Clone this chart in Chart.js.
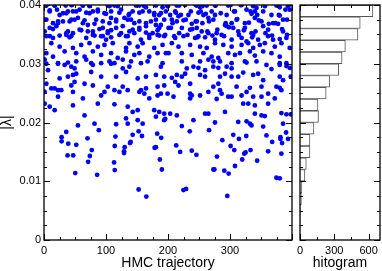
<!DOCTYPE html>
<html>
<head>
<meta charset="utf-8">
<script src="https://cdn.jsdelivr.net/npm/chart.js@4"></script>
<style>
  html, body { margin: 0; padding: 0; background: #fff; }
  #wrap { position: relative; width: 382px; height: 271px; }
  #scatter { position: absolute; left: 0; top: 0; }
  #histo { position: absolute; left: 296px; top: 0; }
</style>
</head>
<body>
<div id="wrap">
  <canvas id="scatter" width="296" height="271"></canvas>
  <canvas id="histo" width="86" height="271"></canvas>
</div>
<script>
// ---- data: [HMC trajectory, |lambda|] ----
const upperPts = [
  [3.8,.0399],[17.2,.0399],[34.9,.0399],[45,.0400],[62.7,.0399],[73.4,.0398],[102.9,.0399],[118.9,.0398],[148.4,.0399],[161.8,.0398],[180.5,.0399],[191.2,.0396],
  [9.2,.0389],[21,.0392],[25.2,.0383],[36,.0386],[46.7,.0389],[57.4,.0392],[68.1,.0387],[78.8,.0389],[86.8,.0392],[97.5,.0386],[108.2,.0389],[124.3,.0392],[136.6,.0383],[143,.0389],[153.8,.0387],[169.8,.0389],[177.8,.0383],[188.5,.0386],[196.6,.0389],
  [1.1,.0375],[14.5,.0369],[22.6,.0372],[30.6,.0372],[44,.0375],[54.7,.0378],[62.7,.0369],[70.7,.0366],[84.1,.0375],[94.8,.0372],[105.6,.0369],[116.3,.0375],[129.7,.0378],[140.4,.0375],[153.8,.0372],[164.5,.0369],[180.5,.0375],[188.5,.0366],
  [9.2,.0361],[19.9,.0364],[38.6,.0355],[46.7,.0352],[60,.0357],[78.8,.0355],[89.5,.0359],[102.9,.0352],[108.2,.0357],[116.3,.0361],[127,.0364],[137.7,.0355],[153.8,.0358],[164.5,.0364],[175.2,.0352],[185.9,.0361],
  [3.8,.0347],[14.5,.0344],[36,.0349],[44,.0347],[68.1,.0344],[81.5,.0348],[94.8,.0347],[100.2,.0341],[121.6,.0349],[135,.0347],[145.7,.0352],[156.4,.0341],[169.8,.0344],[183.2,.0349],[193.9,.0347],
  [11.8,.0335],[25.2,.0329],[46.7,.0327],[60,.0332],[73.4,.0335],[86.8,.0329],[97.5,.0332],[110.9,.0335],[132.3,.0327],[137.7,.0335],[151.1,.0329],[159.1,.0335],[177.8,.0327],[191.2,.0332],
  [3.8,.0318],[14.5,.0312],[33.3,.0321],[52,.0318],[65.4,.0312],[78.8,.0321],[92.2,.0315],[108.2,.0318],[118.9,.0310],[132.3,.0321],[145.7,.0315],[153.8,.0318],[169.8,.0312],[183.2,.0318],[196.6,.0318],
  [1.1,.0307],[22.6,.0301],[38.6,.0302],[52,.0304],[68.1,.0307],[76.1,.0301],[92.2,.0301],[105.6,.0304],[113.6,.0301],[127,.0307],[140.4,.0304],[156.4,.0301],[167.1,.0304],[191.2,.0301],
  [199.8,.0398],[214.2,.0399],[227.6,.0400],[246.4,.0399],[251.7,.0396],[262.4,.0399],[275.8,.0399],[297.2,.0399],[318.7,.0400],[337.4,.0398],[342.8,.0395],[356.2,.0398],[374.9,.0399],[380.2,.0396],[393.6,.0398],
  [203.5,.0383],[211.6,.0389],[216.9,.0381],[233,.0383],[249.1,.0387],[257.1,.0383],[270.5,.0389],[275.8,.0383],[294.6,.0383],[308,.0389],[326.7,.0392],[334.7,.0385],[340.1,.0389],[353.5,.0389],[366.9,.0383],[380.2,.0382],[396.3,.0392],
  [206.2,.0375],[214.2,.0372],[225,.0374],[238.3,.0368],[246.4,.0372],[265.1,.0378],[273.1,.0375],[291.9,.0366],[302.6,.0369],[310.6,.0375],[324,.0369],[340.1,.0378],[350.8,.0372],[369.5,.0369],[377.6,.0368],[385.6,.0375],
  [200.9,.0361],[222.3,.0361],[235.7,.0358],[246.4,.0361],[254.4,.0355],[265.1,.0352],[278.5,.0352],[294.6,.0364],[305.3,.0361],[313.3,.0355],[324,.0361],[334.7,.0352],[353.5,.0364],[361.5,.0358],[385.6,.0355],
  [195.5,.0349],[211.6,.0344],[225,.0347],[243.7,.0344],[249.1,.0347],[259.8,.0345],[275.8,.0341],[286.5,.0349],[302.6,.0341],[318.7,.0344],[326.7,.0338],[337.4,.0349],[345.4,.0341],[361.5,.0347],[369.5,.0341],[380.2,.0342],[391,.0344],
  [206.2,.0335],[216.9,.0329],[235.7,.0332],[251.7,.0329],[262.4,.0327],[275.8,.0335],[289.2,.0332],[302.6,.0329],[318.7,.0332],[329.4,.0335],[337.4,.0327],[348.1,.0332],[356.2,.0335],[372.2,.0329],[382.9,.0335],[396.3,.0327],
  [200.9,.0318],[222.3,.0318],[238.3,.0315],[257.1,.0318],[270.5,.0312],[281.2,.0310],[297.2,.0318],[308,.0315],[316,.0318],[332.1,.0321],[340.1,.0314],[353.5,.0321],[366.9,.0318],[380.2,.0312],
  [222.3,.0304],[251.7,.0304],[265.1,.0307],[273.1,.0304],[283.9,.0304],[302.6,.0301],[324,.0304],[342.8,.0304],[380.2,.0301],[391,.0301]
];
// second, finer reading of the crowded band near the top
const topBandPts = [
  [2.7,.0399],[17.2,.0399],[44,.0400],[62.7,.0399],[105.6,.0398],[113.6,.0399],[153.8,.0399],[164.5,.0396],[199.3,.0398],[218,.0399],[244.8,.0400],[255.5,.0398],[276.9,.0399],[301,.0400],[317.1,.0400],[378.7,.0399],[394.7,.0400],
  [9.2,.0391],[30.6,.0386],[38.6,.0389],[52,.0389],[73.4,.0386],[86.8,.0389],[100.2,.0385],[121.6,.0387],[137.7,.0385],[159.1,.0389],[177.8,.0386],[185.9,.0383],[212.7,.0387],[220.7,.0383],[236.8,.0389],[252.8,.0389],[260.9,.0385],[285,.0386],[306.4,.0389],[333.1,.0389],[343.9,.0383],[378.7,.0383],[389.4,.0392],
  [3.8,.0375],[22.6,.0369],[41.3,.0372],[49.3,.0375],[65.4,.0374],[81.5,.0368],[108.2,.0378],[116.3,.0372],[135,.0375],[145.7,.0369],[172.5,.0372],[180.5,.0366],[193.9,.0375],[207.3,.0369],[228.7,.0375],[244.8,.0372],[255.5,.0369],[266.2,.0372],[293,.0369],[311.7,.0376],[330.5,.0370],[346.5,.0374],[362.6,.0368],[373.3,.0369],[392,.0375],
  [1.1,.0355],[14.5,.0359],[36,.0352],[57.4,.0358],[70.7,.0355],[94.8,.0361],[102.9,.0355],[124.3,.0352],[143,.0358],[153.8,.0361],[164.5,.0353],[183.2,.0357],[204.6,.0361],[218,.0352],[239.4,.0359],[263.5,.0355],[279.6,.0358],[298.3,.0362],[322.4,.0357],[341.2,.0355],[357.2,.0352],[384,.0359],
  [9.2,.0347],[25.2,.0348],[41.3,.0345],[78.8,.0349],[92.2,.0347],[108.2,.0345],[132.3,.0347],[169.8,.0349],[185.9,.0348],[210,.0347],[231.4,.0349],[247.5,.0345],[271.6,.0348],[290.3,.0347],[314.4,.0349],[335.8,.0345],[367.9,.0348],[392,.0349]
];
const middlePts = [
  [3.8,.0300],[22.6,.0300],[33.3,.0298],[44,.0295],[49.3,.0292],[78.8,.0298],[108.2,.0300],[127,.0292],[137.7,.0295],[188.5,.0295],
  [6.5,.0289],[25.2,.0275],[38.6,.0278],[46.7,.0281],[52,.0283],[76.1,.0286],[92.2,.0278],[116.3,.0278],[132.3,.0286],[151.1,.0275],[164.5,.0278],[180.5,.0281],[193.9,.0278],
  [3.8,.0266],[11.8,.0258],[17.2,.0258],[22.6,.0255],[27.9,.0255],[44,.0263],[49.3,.0269],[65.4,.0266],[78.8,.0263],[102.9,.0261],[113.6,.0255],[127,.0261],[135,.0255],[156.4,.0255],[164.5,.0258],[183.2,.0261],[193.9,.0263],
  [1.1,.0252],[22.6,.0244],[46.7,.0252],[62.7,.0241],[92.2,.0246],[97.5,.0252],[121.6,.0252],[153.8,.0252],[161.8,.0249],[169.8,.0241],[183.2,.0246],[188.5,.0249],[199.3,.0249],
  [1.1,.0232],[9.2,.0227],[17.2,.0221],[46.7,.0229],[86.8,.0232],[113.6,.0231],[135,.0227],[143,.0218],[151.1,.0221],[177.8,.0221],[185.9,.0218],[193.9,.0215],
  [65.4,.0212],[54.7,.0195],[81.5,.0198],[116.3,.0197],[132.3,.0207],[135,.0198],[151.1,.0204],[159.1,.0198],[180.5,.0210],[193.9,.0204],
  [230.3,.0292],[241,.0295],[249.1,.0293],[259.8,.0289],[273.1,.0295],[281.2,.0293],[294.6,.0295],[302.6,.0292],[326.7,.0302],[358.8,.0298],[366.9,.0291],[380.2,.0298],[391,.0296],[396.3,.0293],
  [206.2,.0276],[214.2,.0281],[222.3,.0278],[227.6,.0283],[251.7,.0281],[259.8,.0278],[283.9,.0278],[291.9,.0283],[302.6,.0278],[313.3,.0278],[321.3,.0285],[337.4,.0281],[345.4,.0283],[353.5,.0272],[380.2,.0278],[385.6,.0272],[398,.0278],
  [211.6,.0269],[216.9,.0263],[235.7,.0266],[273.1,.0261],[281.2,.0266],[310.6,.0261],[332.1,.0259],[350.8,.0261],[374.9,.0261],[380.2,.0259],[382.9,.0255],
  [235.7,.0249],[238.3,.0246],[251.7,.0246],[265.1,.0252],[283.9,.0255],[286.5,.0249],[297.2,.0244],[302.6,.0244],[318.7,.0246],[326.7,.0252],[337.4,.0244],[350.8,.0244],[361.5,.0249],[372.2,.0241],
  [208.9,.0244],[235.7,.0241],[278.5,.0240],[321.3,.0232],[329.4,.0232],[340.1,.0229],[361.5,.0232],
  [203.5,.0215],[214.2,.0212],[195.5,.0206],[259.8,.0215],[265.1,.0215],[291.9,.0218],[340.1,.0215],[350.8,.0212],[356.2,.0211],[382.9,.0216],[391,.0214],[398,.0214],
  [241,.0204],[275.8,.0200],[313.3,.0201],[326.7,.0202],[332.1,.0198],[334.7,.0195],[222.3,.0194],[353.5,.0193],[385.6,.0198]
];
const lowerPts = [
  [28.4,.0175],[28.4,.0168],[35.9,.0184],[39.1,.0164],[38,.0144],[47.1,.0144],[52,.0162],[50.4,.0114],[70.2,.0173],[71.2,.0133],[73.9,.0143],[77.1,.0153],[85.7,.0111],[88.4,.0187],
  [113,.0132],[114.1,.0160],[115.2,.0176],[114.1,.0119],[129.1,.0151],[129.1,.0148],[130.1,.0158],[138.7,.0165],[139.8,.0167],[143,.0179],[152.6,.0185],[152.6,.0086],[158,.0177],[165,.0074],
  [178.4,.0157],[180.5,.0158],[182.6,.0181],[189,.0174],[186.9,.0137],[190.1,.0120],[213.2,.0161],[219.6,.0150],[224.9,.0085],[229.2,.0087],[235.1,.0185],
  [238.3,.0152],[245.8,.0145],[266.2,.0187],[273.2,.0120],[274.8,.0120],[279,.0142],[287.6,.0170],[290.8,.0118],[297.8,.0113],[295.6,.0075],[301,.0160],[305.3,.0179],[306.9,.0153],[308,.0126],
  [314.4,.0172],[319.7,.0137],[323,.0147],[325.1,.0149],[326.2,.0177],[333.1,.0153],[343.8,.0135],[358.8,.0178],[361.5,.0151],[368,.0167],[374.9,.0106],[380.3,.0105],[381.3,.0172],[382.9,.0147],[384,.0165],[390.4,.0183],[393.6,.0172],[381.3,.0175]
];

// histogram of |lambda|, bins of width 0.002 starting at binLow
const binWidth = 0.002;
const binLow = [0, .002, .004, .006, .008, .010, .012, .014, .016, .018,
                .020, .022, .024, .026, .028, .030, .032, .034, .036, .038];
const binCount = [0, 1, 3, 12, 17, 43, 55, 87, 87, 122,
                  162, 157, 229, 261, 339, 368, 397, 507, 527, 638];
const histTicks = [0, 300, 600];

const FONT = "'Liberation Sans', Arial, Helvetica, sans-serif";

// inward ticks on all four sides + full frame, from the scales themselves
function tickFrame(xMinor, xMajor, yMinor, yMajor) {
  return {
    id: 'tickFrame',
    afterDraw(chart) {
      const { ctx, chartArea: a, scales } = chart;
      const sx = scales.x, sy = scales.y;
      ctx.save();
      ctx.strokeStyle = '#000';
      ctx.lineWidth = 1;
      ctx.beginPath();
      const nx = Math.round((sx.max - sx.min) / xMinor);
      for (let i = 0; i <= nx; i++) {
        const v = sx.min + i * xMinor;
        if (v > sx.max) break;
        const len = (Math.round(v / xMajor * 1000) % 1000 === 0) ? 6 : 3;
        const px = Math.round(sx.getPixelForValue(v)) + 0.5;
        ctx.moveTo(px, a.bottom); ctx.lineTo(px, a.bottom - len);
        ctx.moveTo(px, a.top); ctx.lineTo(px, a.top + len);
      }
      const ny = Math.round((sy.max - sy.min) / yMinor);
      for (let i = 0; i <= ny; i++) {
        const v = sy.min + i * yMinor;
        const len = (Math.round(v / yMajor * 1000) % 1000 === 0) ? 6 : 3;
        const py = Math.round(sy.getPixelForValue(v)) + 0.5;
        ctx.moveTo(a.left, py); ctx.lineTo(a.left + len, py);
        ctx.moveTo(a.right, py); ctx.lineTo(a.right - len, py);
      }
      ctx.stroke();
      ctx.lineWidth = 1.3;
      ctx.strokeRect(a.left, a.top, a.right - a.left, a.bottom - a.top);
      ctx.restore();
    }
  };
}

function fixBox(size, vertical) {
  return s => {
    if (vertical) s.width = size; else s.height = size;
    s.paddingTop = 0; s.paddingBottom = 0; s.paddingLeft = 0; s.paddingRight = 0;
  };
}

const tickFont = { family: FONT, size: 11 };
const titleFont = { family: FONT, size: 14, lineHeight: 1 };

new Chart(document.getElementById('scatter'), {
  type: 'scatter',
  data: {
    datasets: [{
      data: [...upperPts, ...topBandPts, ...middlePts, ...lowerPts].map(p => ({ x: p[0], y: p[1] })),
      backgroundColor: '#0000ff',
      borderWidth: 0,
      pointRadius: 2.4
    }]
  },
  options: {
    responsive: false,
    animation: false,
    layout: { padding: { top: 5, right: 3, left: 0, bottom: 0 } },
    plugins: { legend: { display: false }, tooltip: { enabled: false } },
    scales: {
      x: {
        type: 'linear', min: 0, max: 400,
        grid: { display: false, drawTicks: false },
        border: { display: false },
        ticks: { stepSize: 100, color: '#000', font: tickFont, padding: 4, maxRotation: 0, autoSkip: false,
                 callback: v => v >= 400 ? '' : String(v) },
        title: { display: true, text: 'HMC trajectory', color: '#000', font: titleFont, padding: { top: 0, bottom: 1 } },
        afterFit: fixBox(31, false)
      },
      y: {
        type: 'linear', min: 0, max: 0.04,
        grid: { display: false, drawTicks: false },
        border: { display: false },
        ticks: { stepSize: 0.01, color: '#000', font: tickFont, padding: 3,
                 callback: v => v === 0 ? '0' : v.toFixed(2) },
        title: { display: true, text: '|λ|', color: '#000', font: titleFont, padding: { top: 0, bottom: 0 } },
        afterFit: fixBox(44, true)
      }
    }
  },
  plugins: [tickFrame(25, 100, 0.0025, 0.01)]
});

new Chart(document.getElementById('histo'), {
  type: 'bar',
  data: {
    datasets: [{
      data: binLow.map((lo, i) => ({ x: binCount[i], y: lo + binWidth / 2 })),
      backgroundColor: '#ffffff',
      borderColor: '#555555',
      borderWidth: 1,
      barPercentage: 1,
      categoryPercentage: 1
    }]
  },
  options: {
    indexAxis: 'y',
    responsive: false,
    animation: false,
    layout: { padding: { top: 5, right: 2, left: 0, bottom: 0 } },
    plugins: { legend: { display: false }, tooltip: { enabled: false } },
    scales: {
      x: {
        type: 'linear', min: 0, max: 700,
        grid: { display: false, drawTicks: false },
        border: { display: false },
        ticks: { color: '#000', font: tickFont, padding: 4, maxRotation: 0, autoSkip: false,
                 callback: v => histTicks.includes(v) ? String(v) : '' },
        afterBuildTicks: s => { s.ticks = histTicks.map(v => ({ value: v })); },
        title: { display: true, text: 'hitogram', color: '#000', font: titleFont, padding: { top: 0, bottom: 1 } },
        afterFit: fixBox(31, false)
      },
      y: {
        type: 'linear', min: 0, max: 0.04, offset: false,
        grid: { display: false, drawTicks: false, offset: false },
        border: { display: false },
        ticks: { display: false, stepSize: 0.01 },
        afterFit: fixBox(4, true)
      }
    }
  },
  plugins: [tickFrame(150, 300, 0.0025, 0.01)]
});
</script>
</body>
</html>
